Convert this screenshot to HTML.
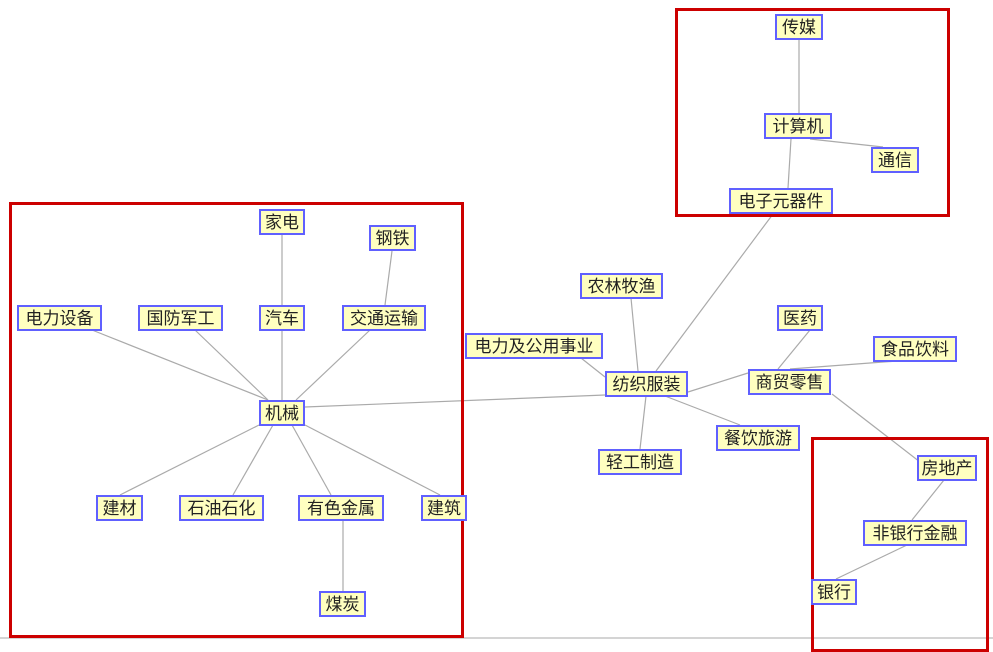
<!DOCTYPE html>
<html><head><meta charset="utf-8"><style>
body{margin:0;width:993px;height:648px;overflow:hidden;background:#fff;position:relative;font-family:"Liberation Sans","Noto Sans CJK SC",sans-serif}
svg{position:absolute;left:0;top:0}
.n{position:absolute;box-sizing:border-box;background:#ffffc0;border:2px solid #6060ff;font-size:17px;line-height:23px;text-align:center;color:#222;white-space:nowrap}
.r{position:absolute;box-sizing:border-box;border:3px solid #cc0000}
</style></head><body>
<svg width="993" height="648">
<g stroke="#aaa" stroke-width="1.2">
<line x1="0" y1="638" x2="993" y2="638" stroke="#bbb"/>
<line x1="799" y1="40" x2="799" y2="113"/>
<line x1="810" y1="139" x2="883" y2="147"/>
<line x1="791" y1="139" x2="788" y2="188"/>
<line x1="773" y1="214" x2="656" y2="371"/>
<line x1="282" y1="234" x2="282" y2="305"/>
<line x1="392" y1="251" x2="385" y2="305"/>
<line x1="92" y1="330" x2="268" y2="400"/>
<line x1="195" y1="330" x2="268" y2="400"/>
<line x1="282" y1="330" x2="282" y2="400"/>
<line x1="370" y1="330" x2="296" y2="400"/>
<line x1="305" y1="407" x2="605" y2="395"/>
<line x1="581" y1="358" x2="605" y2="377"/>
<line x1="631" y1="298" x2="638" y2="371"/>
<line x1="688" y1="392" x2="748" y2="373"/>
<line x1="778" y1="369" x2="810" y2="330"/>
<line x1="790" y1="369" x2="897" y2="361"/>
<line x1="665" y1="396" x2="740" y2="425"/>
<line x1="646" y1="396" x2="640" y2="449"/>
<line x1="832" y1="394" x2="920" y2="462"/>
<line x1="944" y1="480" x2="912" y2="520"/>
<line x1="907" y1="545" x2="836" y2="579"/>
<line x1="259" y1="425" x2="120" y2="495"/>
<line x1="273" y1="425" x2="233" y2="495"/>
<line x1="292" y1="425" x2="331" y2="495"/>
<line x1="305" y1="425" x2="440" y2="495"/>
<line x1="343" y1="520" x2="343" y2="591"/>
</g></svg>
<div class="r" style="left:9px;top:202px;width:455px;height:436px"></div>
<div class="r" style="left:675px;top:8px;width:275px;height:209px"></div>
<div class="r" style="left:811px;top:437px;width:178px;height:215px"></div>
<div class="n" style="left:775px;top:14px;width:48px;height:26px">传媒</div>
<div class="n" style="left:764px;top:113px;width:68px;height:26px">计算机</div>
<div class="n" style="left:871px;top:147px;width:48px;height:26px">通信</div>
<div class="n" style="left:729px;top:188px;width:104px;height:26px">电子元器件</div>
<div class="n" style="left:259px;top:209px;width:46px;height:26px">家电</div>
<div class="n" style="left:369px;top:225px;width:47px;height:26px">钢铁</div>
<div class="n" style="left:17px;top:305px;width:85px;height:26px">电力设备</div>
<div class="n" style="left:138px;top:305px;width:85px;height:26px">国防军工</div>
<div class="n" style="left:259px;top:305px;width:46px;height:26px">汽车</div>
<div class="n" style="left:342px;top:305px;width:84px;height:26px">交通运输</div>
<div class="n" style="left:465px;top:333px;width:138px;height:26px">电力及公用事业</div>
<div class="n" style="left:580px;top:273px;width:83px;height:26px">农林牧渔</div>
<div class="n" style="left:777px;top:305px;width:46px;height:26px">医药</div>
<div class="n" style="left:873px;top:336px;width:84px;height:26px">食品饮料</div>
<div class="n" style="left:605px;top:371px;width:83px;height:26px">纺织服装</div>
<div class="n" style="left:748px;top:369px;width:83px;height:26px">商贸零售</div>
<div class="n" style="left:259px;top:400px;width:46px;height:26px">机械</div>
<div class="n" style="left:716px;top:425px;width:84px;height:26px">餐饮旅游</div>
<div class="n" style="left:598px;top:449px;width:84px;height:26px">轻工制造</div>
<div class="n" style="left:917px;top:455px;width:60px;height:26px">房地产</div>
<div class="n" style="left:96px;top:495px;width:47px;height:26px">建材</div>
<div class="n" style="left:179px;top:495px;width:85px;height:26px">石油石化</div>
<div class="n" style="left:298px;top:495px;width:86px;height:26px">有色金属</div>
<div class="n" style="left:421px;top:495px;width:46px;height:26px">建筑</div>
<div class="n" style="left:863px;top:520px;width:104px;height:26px">非银行金融</div>
<div class="n" style="left:811px;top:579px;width:46px;height:26px">银行</div>
<div class="n" style="left:319px;top:591px;width:47px;height:26px">煤炭</div>
</body></html>
